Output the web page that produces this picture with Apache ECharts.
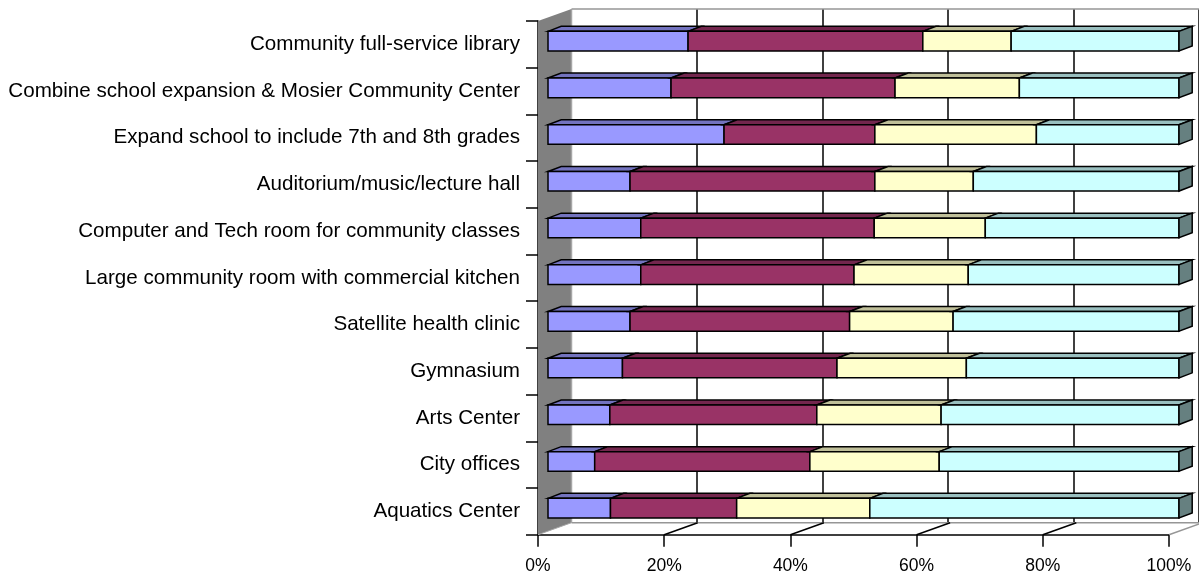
<!DOCTYPE html>
<html>
<head>
<meta charset="utf-8">
<title>Facility preferences</title>
<script src="https://cdn.jsdelivr.net/npm/echarts@6/dist/echarts.min.js"></script>
<style>
html, body { margin: 0; padding: 0; background: #fff; }
#chart { width: 1199px; height: 578px; }
</style>
</head>
<body>
<div id="chart"></div>
<script>
// top row first, the category axis is inverted
var categories = [
    'Community full-service library',
    'Combine school expansion & Mosier Community Center',
    'Expand school to include 7th and 8th grades',
    'Auditorium/music/lecture hall',
    'Computer and Tech room for community classes',
    'Large community room with commercial kitchen',
    'Satellite health clinic',
    'Gymnasium',
    'Arts Center',
    'City offices',
    'Aquatics Center'
];
// percent of answers in each band
var band1 = [22.2, 19.5, 27.9, 13.0, 14.7, 14.7, 13.0, 11.8, 9.8, 7.4, 9.9];
var band2 = [37.2, 35.5, 23.9, 38.8, 37.0, 33.8, 34.8, 34.0, 32.8, 34.1, 20.0];
var band3 = [14.0, 19.7, 25.6, 15.6, 17.6, 18.1, 16.4, 20.5, 19.7, 20.5, 21.1];
var band4 = [26.6, 25.3, 22.6, 32.6, 30.7, 33.4, 35.8, 33.7, 37.7, 38.0, 49.0];
var xTicks = [0, 20, 40, 60, 80, 100];

var allBands = [band1, band2, band3, band4];
var frontColors = ['#9999ff', '#993366', '#ffffcc', '#ccffff'];
var topColors = ['#7373bf', '#73264d', '#bfbf99', '#99bfbf'];
var sideColor = '#668080';

var FONT = '"Liberation Sans", Arial, sans-serif';
// 3d look, all in pixels
var WALL_DX = 33.5, WALL_DY = -12;
var BAR_DX = 10, BAR_DY = -3.2;
var DEPTH_DX = 13.2, DEPTH_DY = -5;
var BAR_RATIO = 0.42;

var myChart = echarts.init(document.getElementById('chart'), null, {renderer: 'canvas'});

function poly(points, fill, stroke, width) {
    return {
        type: 'polygon',
        shape: {points: points},
        style: {fill: fill, stroke: stroke, lineWidth: width, lineJoin: 'miter'}
    };
}
function line(x1, y1, x2, y2, color, width) {
    return {
        type: 'line',
        shape: {x1: x1, y1: y1, x2: x2, y2: y2},
        style: {stroke: color, lineWidth: width, fill: null}
    };
}

// stacked segments, each one with a top face, last one also with a side face
function renderBand(bandIndex) {
    return function (params, api) {
        var lo = api.coord([api.value(0), api.value(2)]);
        var hi = api.coord([api.value(1), api.value(2)]);
        var h = api.size([0, 1])[1] * BAR_RATIO;
        var x1 = lo[0] + BAR_DX, x2 = hi[0] + BAR_DX;
        var y1 = lo[1] + BAR_DY - h / 2, y2 = y1 + h;
        var kids = [
            poly([[x1, y1], [x1 + DEPTH_DX, y1 + DEPTH_DY], [x2 + DEPTH_DX, y1 + DEPTH_DY], [x2, y1]],
                topColors[bandIndex], '#000', 1.5),
            poly([[x1, y1], [x2, y1], [x2, y2], [x1, y2]], frontColors[bandIndex], '#000', 1.5)
        ];
        if (bandIndex === allBands.length - 1) {
            kids.push(poly([[x2, y1], [x2 + DEPTH_DX, y1 + DEPTH_DY], [x2 + DEPTH_DX, y2 + DEPTH_DY], [x2, y2]],
                sideColor, '#000', 1.5));
        }
        return {type: 'group', children: kids};
    };
}

// wall on the left, floor lines and back edges
function renderFrame(params, api) {
    var v = api.value(0);
    var band = api.size([0, 1])[1];
    var top = api.coord([v, 0]);
    var bottom = api.coord([v, categories.length - 1]);
    var yTop = top[1] - band / 2, yBot = bottom[1] + band / 2;
    var x = top[0];
    var kids = [];
    if (v === xTicks[0]) {
        var right = api.coord([xTicks[xTicks.length - 1], 0])[0];
        kids.push(poly([[x, yTop], [x + WALL_DX, yTop + WALL_DY], [x + WALL_DX, yBot + WALL_DY], [x, yBot]],
            '#808080', null, 0));
        kids.push(line(x + WALL_DX, yTop + WALL_DY, x + WALL_DX, yBot + WALL_DY, '#a6a6a6', 1.5));
        kids.push(line(x + WALL_DX, yTop + WALL_DY, right + WALL_DX, yTop + WALL_DY, '#969696', 1.5));
        kids.push(line(x + WALL_DX, yBot + WALL_DY, right + WALL_DX, yBot + WALL_DY, '#969696', 1.5));
        kids.push(line(x, yBot, x + WALL_DX, yBot + WALL_DY, '#a6a6a6', 1));
    } else if (v === xTicks[xTicks.length - 1]) {
        kids.push(line(x, yBot, x + WALL_DX, yBot + WALL_DY, '#969696', 1.5));
    } else {
        kids.push(line(x, yBot, x + WALL_DX, yBot + WALL_DY, '#000', 1.5));
    }
    return {type: 'group', children: kids};
}

var bandSeries = allBands.map(function (values, b) {
    var cells = values.map(function (val, i) {
        var start = 0;
        for (var k = 0; k < b; k++) {
            start += allBands[k][i];
        }
        return [start, start + val, i];
    });
    return {
        type: 'custom',
        xAxisIndex: 0,
        yAxisIndex: 0,
        z: 5,
        silent: true,
        renderItem: renderBand(b),
        encode: {x: [0, 1], y: 2},
        data: cells
    };
});

var option = {
    animation: false,
    backgroundColor: '#fff',
    grid: [
        {left: 538, top: 21, width: 631, height: 513.7},
        // back plane of the box, only here for its gridlines
        {left: 538 + WALL_DX, top: 21 + WALL_DY, width: 631, height: 513.7}
    ],
    xAxis: [
        {
            type: 'value',
            min: 0,
            max: 100,
            interval: 20,
            axisLine: {show: true, onZero: false, lineStyle: {color: '#000', width: 1.5}},
            axisTick: {show: true, length: 12, lineStyle: {color: '#000', width: 1.5}},
            splitLine: {show: false},
            axisLabel: {
                color: '#000',
                fontFamily: FONT,
                fontSize: 17.5,
                margin: 22,
                hideOverlap: false,
                formatter: '{value}%'
            }
        },
        {
            type: 'value',
            gridIndex: 1,
            min: 0,
            max: 100,
            interval: 20,
            axisLine: {show: false},
            axisTick: {show: false},
            axisLabel: {show: false},
            splitLine: {show: true, showMinLine: false, lineStyle: {color: '#000', width: 1.5}}
        }
    ],
    yAxis: [
        {
            type: 'category',
            inverse: true,
            data: categories,
            axisLine: {show: true, lineStyle: {color: '#000', width: 1.5}},
            axisTick: {show: true, length: 12, lineStyle: {color: '#000', width: 1.5}},
            axisLabel: {
                color: '#000',
                fontFamily: FONT,
                fontSize: 20.6,
                margin: 18,
                padding: [2, 0, 0, 0],
                interval: 0
            }
        },
        {
            type: 'category',
            gridIndex: 1,
            inverse: true,
            data: categories,
            axisLine: {show: false},
            axisTick: {show: false},
            axisLabel: {show: false}
        }
    ],
    series: [
        {
            type: 'custom',
            xAxisIndex: 0,
            yAxisIndex: 0,
            z: 1,
            silent: true,
            renderItem: renderFrame,
            encode: {x: 0},
            data: xTicks.map(function (t) { return [t]; })
        }
    ].concat(bandSeries)
};
myChart.setOption(option);
</script>
</body>
</html>
